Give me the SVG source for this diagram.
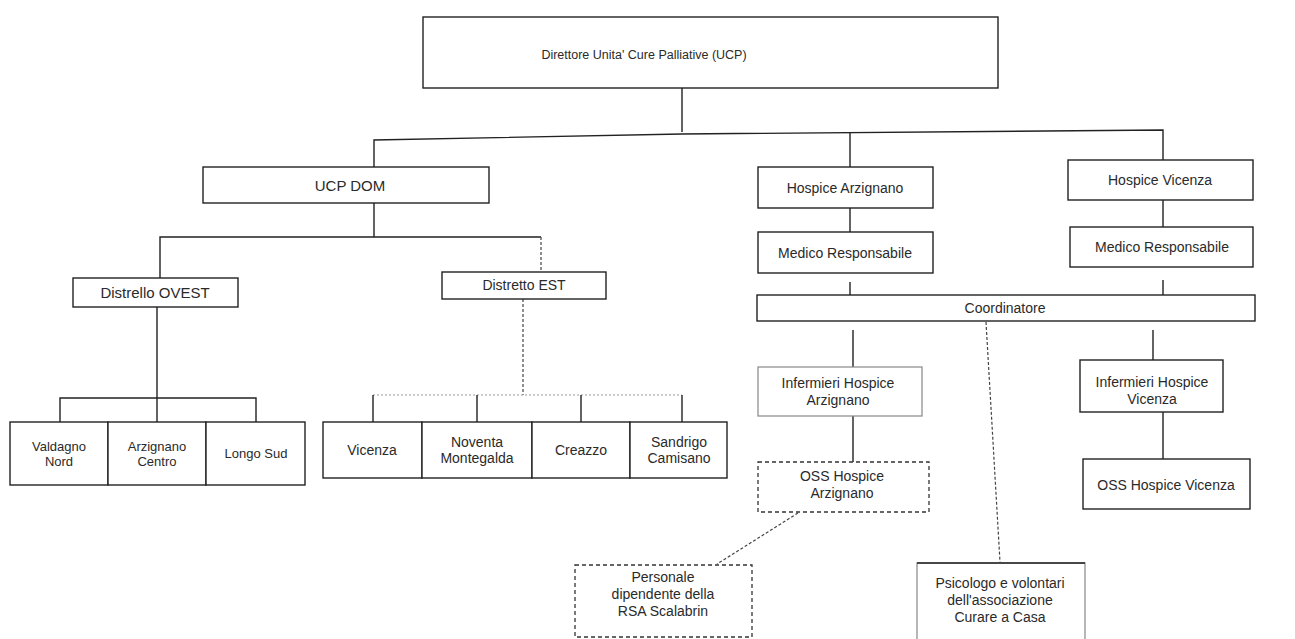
<svg xmlns="http://www.w3.org/2000/svg" width="1295" height="639" viewBox="0 0 1295 639">
<style>
  .box { fill: #fff; stroke: #222; stroke-width: 1.4; }
  .lbox { fill: #fff; stroke: #888; stroke-width: 1.2; }
  .dbox { fill: #fff; stroke: #333; stroke-width: 1.3; stroke-dasharray: 4 3; }
  .t { font-family: "Liberation Sans", Arial, sans-serif; font-size: 14px; fill: #2a2a2a; text-anchor: middle; dominant-baseline: central; }
  .c { stroke: #222; stroke-width: 1.4; fill: none; }
  .cd { stroke: #444; stroke-width: 1.2; fill: none; stroke-dasharray: 3 2; }
  .cl { stroke: #999; stroke-width: 1.2; fill: none; stroke-dasharray: 2 2; }
</style>
<rect width="1295" height="639" fill="#fff"/>
<g id="connectors">
  <line class="c" x1="682" y1="88" x2="682" y2="132"/>
  <path class="c" d="M374 167 V140 L682 134 L1163 130 V160"/>
  <line class="c" x1="850" y1="133" x2="850" y2="167"/>
  <line class="c" x1="374" y1="203" x2="374" y2="237"/>
  <path class="c" d="M160 278 V237 H541"/>
  <line class="cd" x1="541" y1="237" x2="541" y2="272"/>
  <line class="c" x1="157" y1="307" x2="157" y2="398"/>
  <path class="c" d="M60 422 V398 H256 V422"/>
  <line class="c" x1="157" y1="398" x2="157" y2="422"/>
  <line class="cd" x1="523" y1="299" x2="523" y2="395"/>
  <line class="cl" x1="373" y1="395" x2="682" y2="395"/>
  <line class="c" x1="373" y1="395" x2="373" y2="422"/>
  <line class="c" x1="477" y1="395" x2="477" y2="422"/>
  <line class="c" x1="581" y1="395" x2="581" y2="422"/>
  <line class="c" x1="682" y1="395" x2="682" y2="422"/>
  <line class="c" x1="850" y1="208" x2="850" y2="232"/>
  <line class="c" x1="850" y1="282" x2="850" y2="295"/>
  <line class="c" x1="1163" y1="200" x2="1163" y2="227"/>
  <line class="c" x1="1163" y1="280" x2="1163" y2="295" stroke="#777"/>
  <line class="c" x1="853" y1="330" x2="853" y2="367"/>
  <line class="c" x1="853" y1="416" x2="853" y2="462"/>
  <line class="c" x1="1153" y1="330" x2="1153" y2="360" stroke="#888"/>
  <line class="c" x1="1163" y1="412" x2="1163" y2="459"/>
  <line class="cd" x1="986" y1="322" x2="1000" y2="562"/>
  <line class="cd" x1="798" y1="513" x2="717" y2="564"/>
</g>
<g id="n-direttore"><rect class="box" x="423" y="17" width="575" height="71"/><text class="t" x="644" y="55" style="font-size:12.5px">Direttore Unita' Cure Palliative (UCP)</text></g>
<g id="n-ucpdom"><rect class="box" x="203" y="167" width="286" height="36"/><text class="t" x="350" y="185" style="font-size:15px">UCP DOM</text></g>
<g id="n-ovest"><rect class="box" x="73" y="278" width="165" height="29"/><text class="t" x="155" y="292" style="font-size:15px">Distrello OVEST</text></g>
<g id="n-est"><rect class="box" x="442" y="272" width="164" height="27"/><text class="t" x="524" y="285" style="font-size:14px">Distretto EST</text></g>
<g id="n-valdagno"><rect class="box" x="10" y="422" width="98" height="63"/><text class="t" x="59" y="446" style="font-size:13px">Valdagno</text><text class="t" x="59" y="461" style="font-size:13px">Nord</text></g>
<g id="n-arzcentro"><rect class="box" x="108" y="422" width="98" height="63"/><text class="t" x="157" y="446" style="font-size:13px">Arzignano</text><text class="t" x="157" y="461" style="font-size:13px">Centro</text></g>
<g id="n-lonigo"><rect class="box" x="206" y="422" width="99" height="63"/><text class="t" x="256" y="453" style="font-size:13px">Longo Sud</text></g>
<g id="n-vicenza"><rect class="box" x="323" y="422" width="99" height="56"/><text class="t" x="372" y="450">Vicenza</text></g>
<g id="n-noventa"><rect class="box" x="422" y="422" width="110" height="56"/><text class="t" x="477" y="442">Noventa</text><text class="t" x="477" y="458">Montegalda</text></g>
<g id="n-creazzo"><rect class="box" x="532" y="422" width="98" height="56"/><text class="t" x="581" y="450">Creazzo</text></g>
<g id="n-sandrigo"><rect class="box" x="630" y="422" width="97" height="56"/><text class="t" x="679" y="442">Sandrigo</text><text class="t" x="679" y="458">Camisano</text></g>
<g id="n-hosp-arz"><rect class="box" x="758" y="167" width="175" height="41"/><text class="t" x="845" y="188">Hospice Arzignano</text></g>
<g id="n-med-arz"><rect class="box" x="758" y="232" width="175" height="41"/><text class="t" x="845" y="253">Medico Responsabile</text></g>
<g id="n-hosp-vic"><rect class="box" x="1068" y="160" width="185" height="40"/><text class="t" x="1160" y="180">Hospice Vicenza</text></g>
<g id="n-med-vic"><rect class="box" x="1070" y="227" width="183" height="40"/><text class="t" x="1162" y="247">Medico Responsabile</text></g>
<g id="n-coord"><rect class="box" x="757" y="295" width="498" height="26"/><text class="t" x="1005" y="308">Coordinatore</text></g>
<g id="n-inf-arz"><rect class="lbox" x="758" y="367" width="164" height="49"/><text class="t" x="838" y="383">Infermieri Hospice</text><text class="t" x="838" y="400">Arzignano</text></g>
<g id="n-oss-arz"><rect class="dbox" x="758" y="462" width="171" height="50"/><text class="t" x="842" y="476">OSS Hospice</text><text class="t" x="842" y="493">Arzignano</text></g>
<g id="n-inf-vic"><rect class="box" x="1080" y="360" width="143" height="52"/><text class="t" x="1152" y="382">Infermieri Hospice</text><text class="t" x="1152" y="399">Vicenza</text></g>
<g id="n-oss-vic"><rect class="box" x="1083" y="459" width="167" height="50"/><text class="t" x="1166" y="485">OSS Hospice Vicenza</text></g>
<g id="n-personale"><rect class="dbox" x="575" y="565" width="177" height="72"/><text class="t" x="663" y="577">Personale</text><text class="t" x="663" y="594">dipendente della</text><text class="t" x="663" y="611">RSA Scalabrin</text></g>
<g id="n-psicologo"><rect class="lbox" x="917" y="563" width="168" height="90"/><line class="c" x1="917" y1="563" x2="1085" y2="563"/><text class="t" x="1000" y="583">Psicologo e volontari</text><text class="t" x="1000" y="600">dell'associazione</text><text class="t" x="1000" y="617">Curare a Casa</text></g>
</svg>
